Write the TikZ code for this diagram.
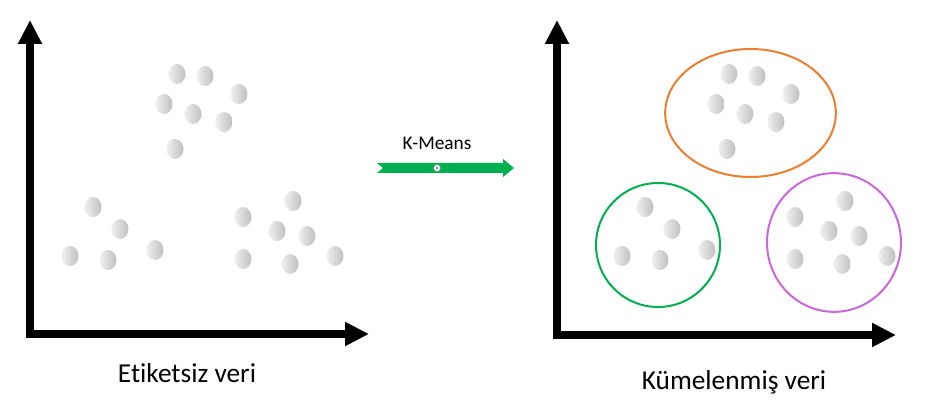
\documentclass[tikz,border=0pt]{standalone}
\usepackage{fontspec}
\setmainfont{Carlito}[Ligatures={NoCommon,NoDiscretionary}]
\usetikzlibrary{arrows.meta,shapes.geometric}
\definecolor{kmgreen}{HTML}{00B050}
\definecolor{kmorange}{HTML}{ED7D31}
\definecolor{kmpurple}{HTML}{CC66DD}
\tikzset{dot/.style={ellipse,inner sep=0pt,minimum width=12.75pt,
                     minimum height=15pt,left color=gray!12,right color=gray!50}}
\tikzset{axis/.style={line width=6pt,line join=miter,
                      {Triangle[length=18pt,width=17pt]}-{Triangle[length=18pt,width=17pt]}}}

\begin{document}
\begin{tikzpicture}[x=0.75pt,y=-0.75pt,
    % styles for clarity
    cluster/.style ={draw, ellipse, line width=1.5pt, inner sep=0pt},
    lbl/.style     ={anchor=base, inner sep=0pt, font=\fontsize{20.5}{24}\selectfont}
  ]
    \useasboundingbox (0,0) rectangle (937,402);

    % left: unlabelled data
    \coordinate (ytopA) at (30,20);
    \coordinate (origA) at (30,334);
    \coordinate (xendA) at (369,334);
    \draw[axis] (ytopA) -- (origA) -- (xendA);
    \foreach \x/\y [count=\i] in {177/74,205/76,239/94,164/104,193/114,224/122,175/149,
                                  93/207,120/229,70/256,108/260,155/250,
                                  293/201,243/217,277/231,307/236,243/259,290/264,335/256}
      \node[dot] (u\i) at (\x,\y) {};
    \node[lbl] (etk) at (187,382) {Etiketsiz veri};

    % arrow in the middle
    \fill[kmgreen] (377,163) -- (503,163) -- (503,159) -- (514,168) -- (503,177)
      -- (503,173) -- (377,173) -- (383,168) -- cycle;
    \node[circle, draw=gray!70, fill=white, line width=0.5pt, minimum size=5pt, inner sep=0pt] (mid) at (437,168) {};
    \fill[blue!55] (mid) circle (1pt);
    \node[anchor=base, inner sep=0pt, font=\fontsize{14.5}{17}\selectfont] (km) at (437,150) {K-Means};

    % right: clustered data
    \coordinate (ytopB) at (557,20);
    \coordinate (origB) at (557,335);
    \coordinate (xendB) at (896,335);
    \draw[axis] (ytopB) -- (origB) -- (xendB);
    \node[cluster, draw=kmorange, minimum width=128pt, minimum height=96pt] (c1) at (750.5,113) {};
    \node[cluster, draw=kmgreen, minimum width=93pt, minimum height=93pt] (c2) at (658,245) {};
    \node[cluster, draw=kmpurple, minimum width=100.5pt, minimum height=104pt] (c3) at (834,242.5) {};
    \foreach \x/\y [count=\i] in {177/74,205/76,239/94,164/104,193/114,224/122,175/149,
                                  93/207,120/229,70/256,108/260,155/250,
                                  293/201,243/217,277/231,307/236,243/259,290/264,335/256}
      \node[dot] (k\i) at (\x+552,\y) {};
    \node[lbl] (kml) at (734,389) {Kümelenmiş veri};
  \end{tikzpicture}
\end{document}
